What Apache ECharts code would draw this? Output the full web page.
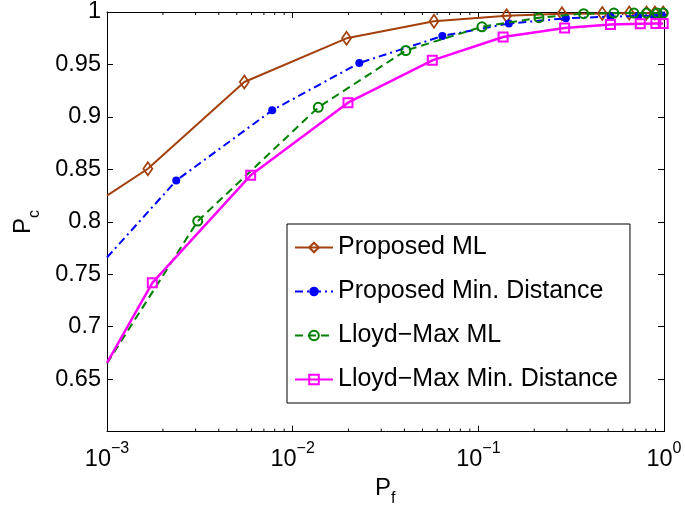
<!DOCTYPE html>
<html><head><meta charset="utf-8">
<script src="https://cdn.jsdelivr.net/npm/echarts@6/dist/echarts.min.js"></script>
<style>html,body{margin:0;padding:0;background:#fff}#c{width:685px;height:512px}</style>
</head><body><div id="c"></div>
<script>
// Series names (legend order)
const seriesNames = ['Proposed ML', 'Proposed Min. Distance', 'Lloyd\u2212Max ML', 'Lloyd\u2212Max Min. Distance'];

// First entry of each series is where the curve enters the plot at Pf = 1e-3 (no marker there)
const pfProposedML = [0.001, 0.00166, 0.00549, 0.0195, 0.0577, 0.142, 0.282, 0.465, 0.65, 0.805, 0.893, 0.99];
const pcProposedML = [0.825, 0.8506, 0.9333, 0.9749, 0.9912, 0.9965, 0.9984, 0.9985, 0.999, 0.999, 0.999, 0.999];

const pfProposedMD = [0.001, 0.00236, 0.00776, 0.02285, 0.064, 0.146, 0.296, 0.515, 0.726, 0.882, 0.976];
const pcProposedMD = [0.766, 0.8393, 0.9063, 0.9514, 0.9771, 0.989, 0.994, 0.9956, 0.9962, 0.9965, 0.9967];

const pfLloydML = [0.001, 0.00308, 0.01374, 0.0407, 0.1046, 0.212, 0.369, 0.537, 0.689, 0.805, 0.918, 0.99];
const pcLloydML = [0.665, 0.8007, 0.9091, 0.9633, 0.9859, 0.9946, 0.9984, 0.999, 0.999, 0.999, 0.999, 0.999];

const pfLloydMD = [0.001, 0.001754, 0.00594, 0.01986, 0.0565, 0.136, 0.2916, 0.515, 0.745, 0.904, 0.99];
const pcLloydMD = [0.6655, 0.7418, 0.8443, 0.9135, 0.9539, 0.9762, 0.9847, 0.988, 0.9887, 0.989, 0.989];

// Axis settings / ticks
const xMin = 0.001, xMax = 1;
const yMin = 0.6, yMax = 1, yStep = 0.05;
const xMinorTicks = [0.002,0.003,0.004,0.005,0.006,0.007,0.008,0.009,
                     0.02,0.03,0.04,0.05,0.06,0.07,0.08,0.09,
                     0.2,0.3,0.4,0.5,0.6,0.7,0.8,0.9];

const FONT = 'Liberation Sans, Arial, Helvetica, sans-serif';
const TICKFS = 23.5;

function toData(xs, ys) {
  return xs.map((x, i) => i === 0 ? { value: [x, ys[i]], symbol: 'none' } : [x, ys[i]]);
}

const chart = echarts.init(document.getElementById('c'), null, { renderer: 'canvas' });

const axisLine = { show: true, onZero: false, lineStyle: { color: '#000', width: 1 } };
const tick = { show: true, inside: true, length: 6, lineStyle: { color: '#000', width: 1 } };

function xLabel(v) {
  const e = Math.round(Math.log10(v));
  const s = e < 0 ? '\u2212' + (-e) : String(e);
  return '{b|10}{s|' + s + '}';
}

const option = {
  animation: false,
  backgroundColor: '#fff',
  textStyle: { fontFamily: FONT },
  grid: { left: 107, right: 21, top: 11, bottom: 75 },
  legend: {
    data: seriesNames,
    orient: 'vertical',
    left: 287, top: 224,
    backgroundColor: '#fff',
    borderColor: '#000', borderWidth: 1,
    padding: [11, 12, 11, 7],
    itemGap: 19,
    itemWidth: 38, itemHeight: 12,
    textStyle: { fontSize: 25, color: '#000', fontFamily: FONT },
    selectedMode: false
  },
  xAxis: [{
    type: 'log', logBase: 10, min: xMin, max: xMax,
    position: 'bottom',
    axisLine, axisTick: tick, splitLine: { show: false },
    axisLabel: {
      margin: 9, color: '#000', formatter: xLabel,
      rich: {
        b: { fontSize: TICKFS, lineHeight: 37, fontFamily: FONT, color: '#000' },
        s: { fontSize: 16, lineHeight: 15, verticalAlign: 'top', fontFamily: FONT, color: '#000' }
      }
    },
    name: '{p|P}{f|f}{sp| }',
    nameLocation: 'middle', nameGap: 42,
    nameTextStyle: {
      rich: {
        p: { fontSize: 24, lineHeight: 24, verticalAlign: 'top', fontFamily: FONT, color: '#000' },
        f: { fontSize: 16, lineHeight: 16, verticalAlign: 'bottom', fontFamily: FONT, color: '#000' },
        sp: { fontSize: 2, lineHeight: 31 }
      }
    }
  }, {
    type: 'log', logBase: 10, min: xMin, max: xMax,
    position: 'top',
    axisLine, axisTick: tick, splitLine: { show: false },
    axisLabel: { show: false }
  }],
  yAxis: [{
    type: 'value', min: yMin, max: yMax, interval: yStep,
    position: 'left',
    axisLine, axisTick: tick, splitLine: { show: false },
    axisLabel: {
      margin: 6, fontSize: TICKFS, color: '#000', fontFamily: FONT,
      formatter: v => Math.abs(v - yMin) < 1e-9 ? '' : String(+v.toFixed(2))
    },
    name: '{p|P}{c|c}{sp| }',
    nameLocation: 'middle', nameGap: 64, nameRotate: 90,
    nameTextStyle: {
      rich: {
        p: { fontSize: 24, lineHeight: 24, verticalAlign: 'top', fontFamily: FONT, color: '#000' },
        c: { fontSize: 16, lineHeight: 16, verticalAlign: 'bottom', fontFamily: FONT, color: '#000' },
        sp: { fontSize: 2, lineHeight: 32 }
      }
    }
  }, {
    type: 'value', min: yMin, max: yMax, interval: yStep,
    position: 'right',
    axisLine, axisTick: tick, splitLine: { show: false },
    axisLabel: { show: false }
  }],
  series: [
    {
      type: 'custom', name: 'minorTicks', silent: true, clip: false,
      xAxisIndex: 0, yAxisIndex: 0,
      data: xMinorTicks.map(v => [v]),
      encode: { x: 0 },
      renderItem(params, api) {
        const x = api.value(0);
        const b = api.coord([x, yMin]);
        const t = api.coord([x, yMax]);
        return { type: 'group', children: [
          { type: 'line', shape: { x1: b[0], y1: b[1], x2: b[0], y2: b[1] - 3 }, style: { stroke: '#000', lineWidth: 1 } },
          { type: 'line', shape: { x1: t[0], y1: t[1], x2: t[0], y2: t[1] + 3 }, style: { stroke: '#000', lineWidth: 1 } }
        ] };
      }
    },
    {
      name: seriesNames[0], type: 'line',
      data: toData(pfProposedML, pcProposedML),
      symbol: 'diamond', symbolSize: [9, 13], showAllSymbol: true,
      lineStyle: { color: '#a3400c', width: 2 },
      itemStyle: { color: 'rgba(255,255,255,0)', borderColor: '#a3400c', borderWidth: 1.8 },
      z: 3
    },
    {
      name: seriesNames[1], type: 'line',
      data: toData(pfProposedMD, pcProposedMD),
      symbol: 'circle', symbolSize: 8, showAllSymbol: true,
      lineStyle: { color: '#0000ff', width: 2, type: [8, 4, 2, 4] },
      itemStyle: { color: '#0000ff', borderColor: '#0000ff', borderWidth: 0 },
      z: 4
    },
    {
      name: seriesNames[2], type: 'line',
      data: toData(pfLloydML, pcLloydML),
      symbol: 'circle', symbolSize: 9, showAllSymbol: true,
      lineStyle: { color: '#008000', width: 2, type: [8, 5] },
      itemStyle: { color: 'rgba(255,255,255,0)', borderColor: '#008000', borderWidth: 2 },
      z: 5
    },
    {
      name: seriesNames[3], type: 'line',
      data: toData(pfLloydMD, pcLloydMD),
      symbol: 'rect', symbolSize: 9, showAllSymbol: true,
      lineStyle: { color: '#ff00ff', width: 2.5 },
      itemStyle: { color: 'rgba(255,255,255,0)', borderColor: '#ff00ff', borderWidth: 2 },
      z: 6
    }
  ]
};
chart.setOption(option);
</script>
</body></html>
